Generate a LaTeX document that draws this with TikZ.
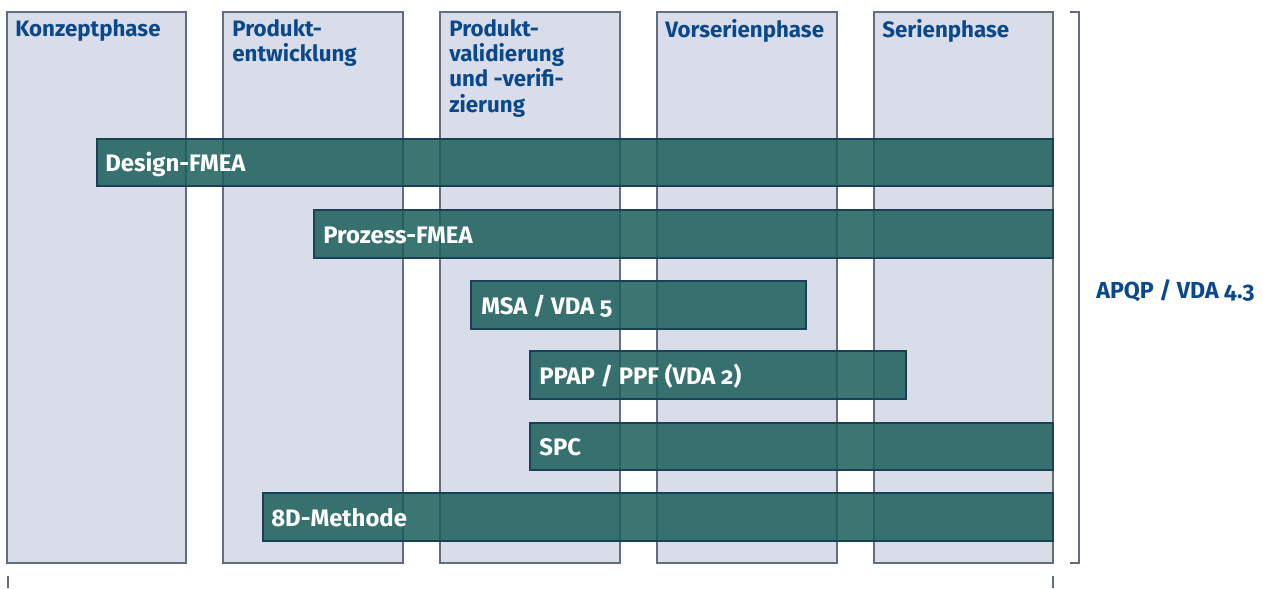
\documentclass[tikz,border=0pt]{standalone}
\usepackage{fontspec}
\setmainfont{Fira Sans}[Numbers=OldStyle]

\definecolor{phasefill}{RGB}{217,220,233}
\definecolor{phaseline}{RGB}{100,108,128}
\definecolor{phasetext}{RGB}{10,72,140}
\definecolor{barfill}{RGB}{26,94,90}
\definecolor{barline}{RGB}{25,65,85}

\tikzset{
  phase/.style={fill=phasefill, draw=phaseline, line width=0.6pt},
  phasetitle/.style={anchor=north west, inner sep=0pt, text=phasetext, align=left,
    font=\bfseries\fontsize{12.7}{14.4}\selectfont},
  bar/.style={fill=barfill, fill opacity=0.85, draw=barline, line width=0.6pt},
  bartext/.style={anchor=base west, inner sep=0pt, text=white,
    font=\bfseries\fontsize{13.6}{15}\selectfont},
  klammer/.style={draw=phaseline, line width=0.6pt}
}

\begin{document}
\begin{tikzpicture}[x=0.02cm, y=-0.02cm]
        \useasboundingbox (0,0) rectangle (1263,588);

        % ~~~~ Spalten der Phasen ~~~~%
        \filldraw[phase] (7,12) rectangle (186,563);
        \filldraw[phase] (223,12) rectangle (403,563);
        \filldraw[phase] (440,12) rectangle (620,563);
        \filldraw[phase] (657,12) rectangle (837,563);
        \filldraw[phase] (874,12) rectangle (1053,563);

        \node[phasetitle] (konzept) at (15,19) {Konzeptphase};
        \node[phasetitle] (entwicklung) at (232,19) {Produkt-\\entwicklung};
        \node[phasetitle] (validierung) at (449,19) {Produkt-\\validierung\\und -verifi-\\zierung};
        \node[phasetitle] (vorserie) at (665,19) {Vorserienphase};
        \node[phasetitle] (serie) at (882,19) {Serienphase};

        % ~~~~ Balken der Methoden ~~~~%
        \filldraw[bar] (97,139) rectangle (1053,186);
        \filldraw[bar] (314,210) rectangle (1053,258);
        \filldraw[bar] (471,281) rectangle (806,329);
        \filldraw[bar] (530,351) rectangle (906,399);
        \filldraw[bar] (530,423) rectangle (1053,470);
        \filldraw[bar] (263,493) rectangle (1053,541);

        \node[bartext] (dfmea) at (105,171) {Design-FMEA};
        \node[bartext] (pfmea) at (323,243) {Prozess-FMEA};
        \node[bartext] (msa) at (481,314) {MSA / VDA 5};
        \node[bartext] (ppap) at (539,384) {PPAP / PPF (VDA 2)};
        \node[bartext] (spc) at (539,455) {SPC};
        \node[bartext] (achtd) at (271,526) {8D-Methode};

        % ~~~~ Klammer rechts und unten ~~~~%
        \draw[klammer] (1070,12) -- (1079,12) -- (1079,563) -- (1070,563);
        \draw[klammer] (8,576) -- (8,588);
        \draw[klammer] (1053,576) -- (1053,588);

        \node[anchor=base west, inner sep=0pt, text=phasetext,
            font=\bfseries\fontsize{13.2}{15}\selectfont] (apqp) at (1096,298) {APQP / VDA 4.3};
\end{tikzpicture}
\end{document}
